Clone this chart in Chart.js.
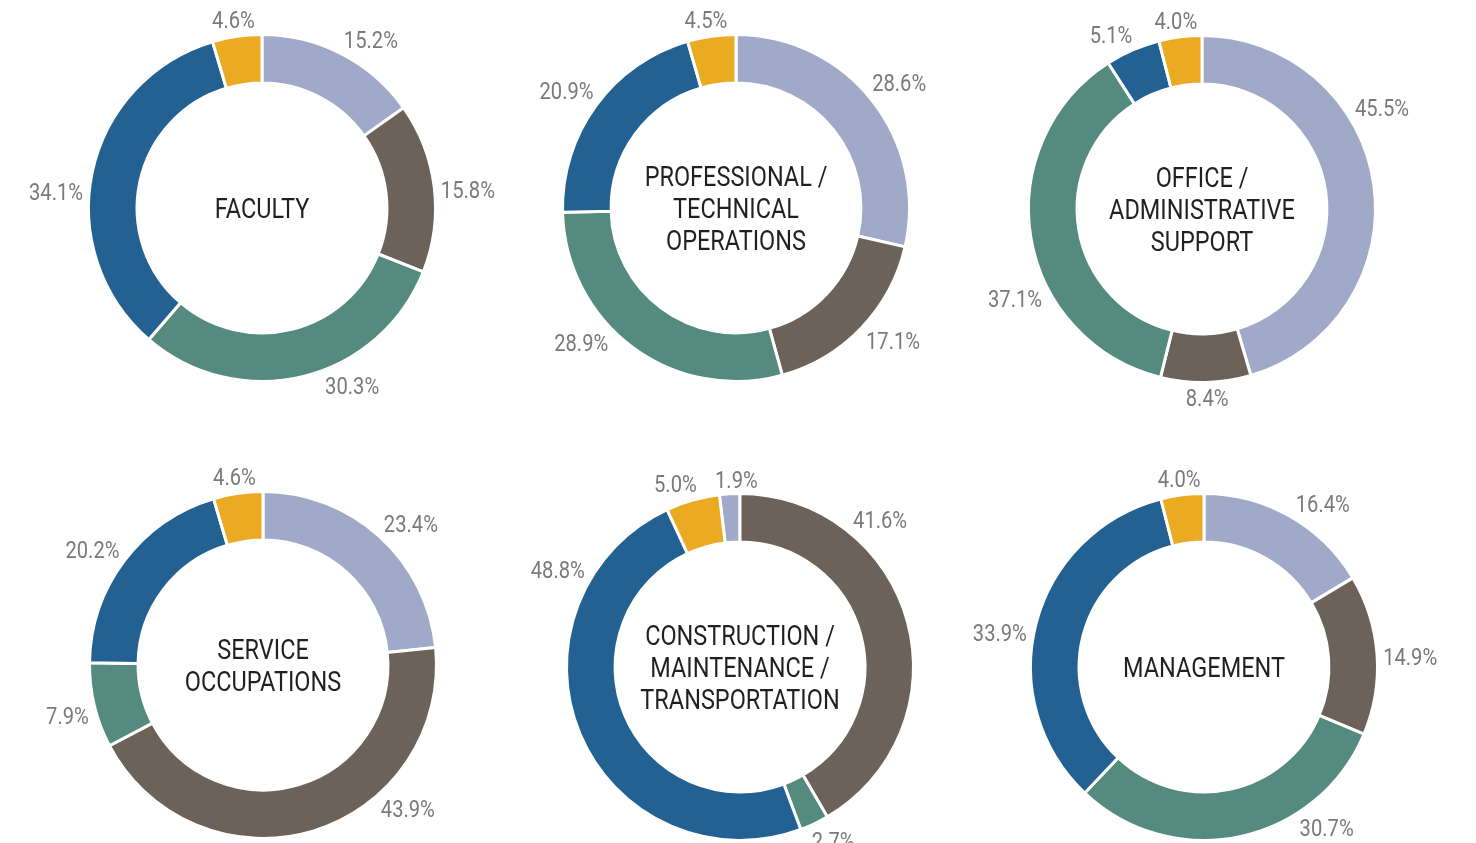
<!DOCTYPE html>
<html lang="en">
<head>
  <meta charset="UTF-8">
  <title>Share by occupation group</title>
  <script src="https://cdn.jsdelivr.net/npm/chart.js"></script>
  <style>
    html, body { margin: 0; padding: 0; background: #fff; width: 1476px; height: 843px; overflow: hidden; }
    .donut { position: absolute; }
  </style>
</head>
<body>
  <canvas id="faculty" class="donut" width="480" height="460"></canvas>
  <canvas id="professional" class="donut" width="480" height="460"></canvas>
  <canvas id="office" class="donut" width="480" height="460"></canvas>
  <canvas id="service" class="donut" width="480" height="460"></canvas>
  <canvas id="construction" class="donut" width="480" height="460"></canvas>
  <canvas id="management" class="donut" width="480" height="460"></canvas>

  <script>
    // segment order, clockwise from the top
    const segments = ['Group 1', 'Group 2', 'Group 3', 'Group 4', 'Group 5'];
    const colors = ['#a0a9c7', '#6d6259', '#558a7f', '#236192', '#eaaa22'];

    // percentages per occupation group
    const faculty = [15.2, 15.8, 30.3, 34.1, 4.6];
    const professional = [28.6, 17.1, 28.9, 20.9, 4.5];
    const office = [45.5, 8.4, 37.1, 5.1, 4.0];
    const service = [23.4, 43.9, 7.9, 20.2, 4.6];
    const construction = [1.9, 41.6, 2.7, 48.8, 5.0];
    const management = [16.4, 14.9, 30.7, 33.9, 4.0];

    const titles = {
      faculty: ['FACULTY'],
      professional: ['PROFESSIONAL /', 'TECHNICAL', 'OPERATIONS'],
      office: ['OFFICE /', 'ADMINISTRATIVE', 'SUPPORT'],
      service: ['SERVICE', 'OCCUPATIONS'],
      construction: ['CONSTRUCTION /', 'MAINTENANCE /', 'TRANSPORTATION'],
      management: ['MANAGEMENT']
    };

    // layout: chart centres, and where along each slice its label sits (0 = start, 1 = end)
    const layout = [
      { id: 'faculty', data: faculty, cx: 262, cy: 208, labelAt: [0.6, 0.53, 0.38, 0.44, 0.48] },
      { id: 'professional', data: professional, cx: 736, cy: 208, labelAt: [0.51, 0.44, 0.62, 0.48, 0.44] },
      { id: 'office', data: office, cx: 1202, cy: 209, labelAt: [0.37, 0.49, 0.38, 0.28, 0.45] },
      { id: 'service', data: service, cx: 263, cy: 665, labelAt: [0.55, 0.32, 0.47, 0.46, 0.48] },
      { id: 'construction', data: construction, cx: 740, cy: 667, labelAt: [0.84, 0.29, 0.2, 0.79, 0.3], startAtSecond: true },
      { id: 'management', data: management, cx: 1204, cy: 667, labelAt: [0.61, 0.52, 0.27, 0.46, 0.48] }
    ];

    // no condensed face installed, so squeeze Roboto sideways
    const FONT = 'Roboto, "DejaVu Sans", sans-serif';
    const W = 480, H = 460, R = 173.5, BORDER = 3;

    function squeezedText(ctx, text, x, y, squeeze) {
      ctx.save();
      ctx.translate(x, y);
      ctx.scale(squeeze, 1);
      ctx.fillText(text, 0, 0);
      ctx.restore();
    }

    const donutText = {
      id: 'donutText',
      afterDatasetsDraw(chart, args, opts) {
        const ctx = chart.ctx;
        const arcs = chart.getDatasetMeta(0).data;
        const values = chart.data.datasets[0].data;
        ctx.save();
        ctx.textAlign = 'center';
        ctx.textBaseline = 'alphabetic';

        // value labels outside the ring, centred on the ray through the slice
        const size = 24, sq = 0.84;
        ctx.font = '400 ' + size + 'px ' + FONT;
        ctx.fillStyle = '#7a7a7a';
        arcs.forEach((arc, i) => {
          const p = arc.getProps(['x', 'y', 'startAngle', 'endAngle', 'outerRadius'], true);
          const a = p.startAngle + (p.endAngle - p.startAngle) * opts.labelAt[i];
          const text = values[i].toFixed(1) + '%';
          const w = ctx.measureText(text).width * sq;
          const h = size * 0.71;
          const c = Math.cos(a), s = Math.sin(a);
          const r = p.outerRadius + 5.5 + Math.abs(c) * w / 2 + Math.abs(s) * h / 2;
          squeezedText(ctx, text, p.x + c * r, p.y + s * r + h / 2, sq);
        });

        // title in the hole
        const tSize = 27;
        ctx.font = '400 ' + tSize + 'px ' + FONT;
        ctx.fillStyle = '#231f20';
        const lines = opts.title;
        const x0 = arcs[0].x, y0 = arcs[0].y;
        lines.forEach((ln, k) => {
          const y = y0 + (k - (lines.length - 1) / 2) * 32 + tSize * 0.71 / 2;
          squeezedText(ctx, ln, x0, y, 0.87);
        });
        ctx.restore();
      }
    };

    layout.forEach(c => {
      const el = document.getElementById(c.id);
      el.style.left = (c.cx - W / 2) + 'px';
      el.style.top = (c.cy - H / 2) + 'px';

      const total = c.data.reduce((s, v) => s + v, 0);
      const rotation = c.startAtSecond ? -360 * c.data[0] / total : 0;
      const side = 2 * R + BORDER;

      new Chart(el.getContext('2d'), {
        type: 'doughnut',
        data: {
          labels: segments,
          datasets: [{
            data: c.data,
            backgroundColor: colors,
            borderColor: '#ffffff',
            borderWidth: BORDER,
            hoverOffset: 0
          }]
        },
        options: {
          responsive: false,
          animation: false,
          rotation: rotation,
          cutout: '72%',
          layout: {
            padding: { left: (W - side) / 2, right: (W - side) / 2, top: (H - side) / 2, bottom: (H - side) / 2 }
          },
          plugins: {
            legend: { display: false },
            tooltip: { enabled: false },
            donutText: { title: titles[c.id], labelAt: c.labelAt }
          }
        },
        plugins: [donutText]
      });
    });
  </script>
</body>
</html>
